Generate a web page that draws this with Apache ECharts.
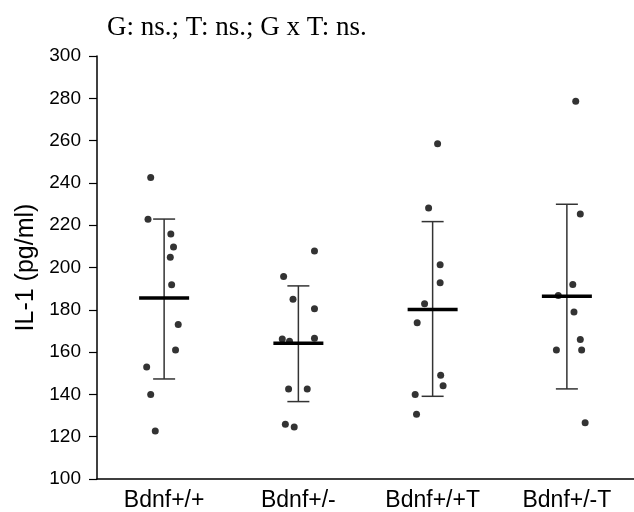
<!DOCTYPE html>
<html><head><meta charset="utf-8">
<script src="https://cdn.jsdelivr.net/npm/echarts@6/dist/echarts.min.js"></script>
<style>html,body{margin:0;padding:0;background:#fff}#c{width:634px;height:512px}</style>
</head><body><div id="c"></div>
<script>
const titleText = 'G: ns.; T: ns.; G x T: ns.';
const yName = 'IL-1 (pg/ml)';
const categories = ['Bdnf+/+', 'Bdnf+/-', 'Bdnf+/+T', 'Bdnf+/-T'];
const yMin = 100, yMax = 300, yStep = 20;

// individual values per group
const g1Values = [242.6, 222.8, 215.8, 209.7, 204.8, 191.9, 173.0, 161.0, 153.0, 140.0, 122.7];
const g2Values = [207.8, 195.8, 185.0, 180.5, 166.2, 165.1, 166.5, 142.6, 142.6, 125.9, 124.6];
const g3Values = [258.5, 228.1, 201.3, 192.8, 182.9, 173.9, 149.0, 144.1, 140.0, 130.6];
const g4Values = [278.6, 225.3, 192.0, 186.8, 179.0, 166.0, 161.0, 161.0, 126.6];
// horizontal jitter of each point (category units)
const g1Jitter = [-0.10, -0.12, 0.05, 0.07, 0.046, 0.056, 0.105, 0.085, -0.13, -0.10, -0.066];
const g2Jitter = [0.12, -0.11, -0.04, 0.12, -0.12, -0.066, 0.12, -0.073, 0.066, -0.097, -0.031];
const g3Jitter = [0.037, -0.03, 0.056, 0.056, -0.06, -0.115, 0.06, 0.078, -0.13, -0.12];
const g4Jitter = [0.066, 0.10, 0.044, -0.064, 0.053, 0.10, -0.078, 0.11, 0.136];

// summary: mean and error bar ends
const means = [185.6, 164.2, 180.2, 186.4];
const errUpper = [222.9, 191.3, 221.7, 229.9];
const errLower = [147.3, 136.6, 139.1, 142.6];

const groups = [[g1Values, g1Jitter], [g2Values, g2Jitter], [g3Values, g3Jitter], [g4Values, g4Jitter]];
const pointData = [];
groups.forEach(([vals, jit], gi) => vals.forEach((v, k) => pointData.push([gi + jit[k], v])));
const summaryData = means.map((m, i) => [i, m, errUpper[i], errLower[i]]);

const chart = echarts.init(document.getElementById('c'), null, {renderer: 'canvas'});
chart.setOption({
  animation: false,
  backgroundColor: '#fff',
  title: {
    text: titleText, left: 107, top: 14, padding: 0,
    textStyle: {fontFamily: 'Liberation Serif', fontSize: 27, fontWeight: 'normal', color: '#000'}
  },
  grid: {left: 97, top: 56, height: 423, width: 548, containLabel: false},
  xAxis: [{
    type: 'category', data: categories, boundaryGap: true,
    axisLine: {lineStyle: {color: '#000', width: 1.5}},
    axisTick: {show: false},
    axisLabel: {color: '#000', fontFamily: 'Liberation Sans', fontSize: 23, margin: 10}
  }, {
    type: 'value', min: -0.5, max: 3.5, show: false
  }],
  yAxis: {
    type: 'value', min: yMin, max: yMax, interval: yStep,
    name: yName, nameLocation: 'middle', nameGap: 57, nameRotate: 90,
    nameTextStyle: {color: '#000', fontFamily: 'Liberation Sans', fontSize: 25},
    axisLine: {show: true, onZero: false, lineStyle: {color: '#000', width: 1.5}},
    axisTick: {show: true, inside: false, length: 8, lineStyle: {color: '#000', width: 1.2}},
    axisLabel: {color: '#000', fontFamily: 'Liberation Sans', fontSize: 19, margin: 16},
    splitLine: {show: false}
  },
  series: [{
    type: 'custom', xAxisIndex: 1, data: summaryData,
    renderItem: function (params, api) {
      const x = api.value(0);
      const pm = api.coord([x, api.value(1)]);
      const pu = api.coord([x, api.value(2)]);
      const pl = api.coord([x, api.value(3)]);
      const cap = 11, half = 25;
      const thin = {stroke: '#333', lineWidth: 1.5};
      return {type: 'group', children: [
        {type: 'line', shape: {x1: pu[0], y1: pu[1], x2: pl[0], y2: pl[1]}, style: thin},
        {type: 'line', shape: {x1: pu[0] - cap, y1: pu[1], x2: pu[0] + cap, y2: pu[1]}, style: thin},
        {type: 'line', shape: {x1: pl[0] - cap, y1: pl[1], x2: pl[0] + cap, y2: pl[1]}, style: thin},
        {type: 'line', shape: {x1: pm[0] - half, y1: pm[1], x2: pm[0] + half, y2: pm[1]}, style: {stroke: '#000', lineWidth: 3.5}}
      ]};
    },
    z: 2
  }, {
    type: 'scatter', xAxisIndex: 1, data: pointData,
    symbol: 'circle', symbolSize: 7,
    itemStyle: {color: '#000'}, z: 3
  }]
});
</script>
</body></html>
